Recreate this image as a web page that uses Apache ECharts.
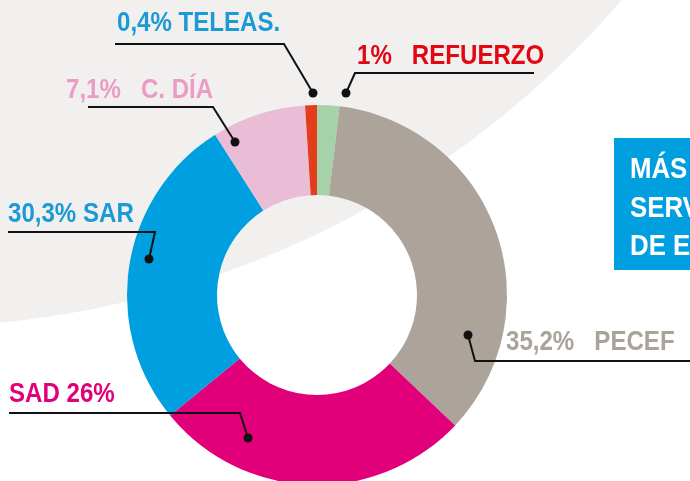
<!DOCTYPE html>
<html>
  <head>
    <meta charset="utf-8" />
    <title>Reparto de servicios</title>
    <script src="https://cdn.jsdelivr.net/npm/echarts@6/dist/echarts.min.js"></script>
    <style>
      * {
        margin: 0;
        padding: 0;
        box-sizing: border-box;
      }
      body {
        background: #ffffff;
      }
    </style>
  </head>
  <body>
    <div id="main" style="width: 690px; height: 481px"></div>
    <script type="text/javascript">
      // slices, clockwise from the top (share of the ring as drawn)
      const categories = ["REFUERZO", "PECEF", "SAD", "SAR", "C. DÍA", "TELEAS."];
      const sliceValues = [1.9, 35.1, 27.0, 26.9, 8.0, 1.0];
      const labelTexts = [
        "1%   REFUERZO",
        "35,2%   PECEF",
        "SAD 26%",
        "30,3% SAR",
        "7,1%   C. DÍA",
        "0,4% TELEAS.",
      ];
      const boxLines = ["MÁS", "SERV", "DE E"];

      const sliceColors = ["#a6d2a9", "#aca49b", "#e2007a", "#009fe0", "#e8bdd5", "#e43d1b"];
      const textColors = ["#e30613", "#aaa399", "#e2007a", "#1b9ad7", "#e99dc5", "#1b9ad7"];

      // leader lines: dot inside the slice, elbow, end; text left / cap centre
      const leaders = [
        { pts: [[346, 93], [355, 73], [534, 73]], tx: 357, ty: 56 },
        { pts: [[468, 335], [475, 361], [690, 361]], tx: 506, ty: 342.5 },
        { pts: [[248, 438], [240, 413], [9, 413]], tx: 9, ty: 394.5 },
        { pts: [[149, 259], [155, 232], [8, 232]], tx: 8, ty: 214 },
        { pts: [[235, 142], [213, 107], [88, 107]], tx: 66, ty: 90.5 },
        { pts: [[313, 93], [284, 44], [115, 44]], tx: 117, ty: 23.5 },
      ];

      var myChart = echarts.init(document.getElementById("main"));

      const FONT = '"Liberation Sans", Arial, sans-serif';

      var graphics = [
        {
          type: "circle",
          shape: { cx: -90, cy: -611, r: 938 },
          style: { fill: "#f1f0ee" },
          z: -10,
          silent: true,
        },
        {
          type: "rect",
          shape: { x: 614, y: 138, width: 80, height: 132 },
          style: { fill: "#009fe0" },
          z: 5,
        },
      ];

      boxLines.forEach((t, i) => {
        graphics.push({
          type: "text",
          x: 630,
          y: 170 + i * 38.5,
          scaleX: 0.86,
          style: {
            text: t,
            fill: "#ffffff",
            font: "bold 30px " + FONT,
            verticalAlign: "middle",
          },
          z: 6,
        });
      });

      leaders.forEach((l, i) => {
        graphics.push({
          type: "polyline",
          shape: { points: l.pts },
          style: { stroke: "#111111", lineWidth: 2, fill: null },
          z: 20,
        });
        graphics.push({
          type: "circle",
          shape: { cx: l.pts[0][0], cy: l.pts[0][1], r: 4.5 },
          style: { fill: "#111111" },
          z: 21,
        });
        graphics.push({
          type: "text",
          x: l.tx,
          y: l.ty,
          scaleX: 0.86,
          style: {
            text: labelTexts[i],
            fill: textColors[i],
            font: "bold 28px " + FONT,
            verticalAlign: "middle",
          },
          z: 20,
        });
      });

      var option = {
        animation: false,
        graphic: graphics,
        series: [
          {
            type: "pie",
            center: [317, 295],
            radius: [100, 190],
            startAngle: 90,
            clockwise: true,
            silent: true,
            label: { show: false },
            labelLine: { show: false },
            itemStyle: { borderWidth: 0 },
            data: categories.map((name, i) => ({
              name: name,
              value: sliceValues[i],
              itemStyle: { color: sliceColors[i] },
            })),
          },
        ],
      };

      myChart.setOption(option);
    </script>
  </body>
</html>
